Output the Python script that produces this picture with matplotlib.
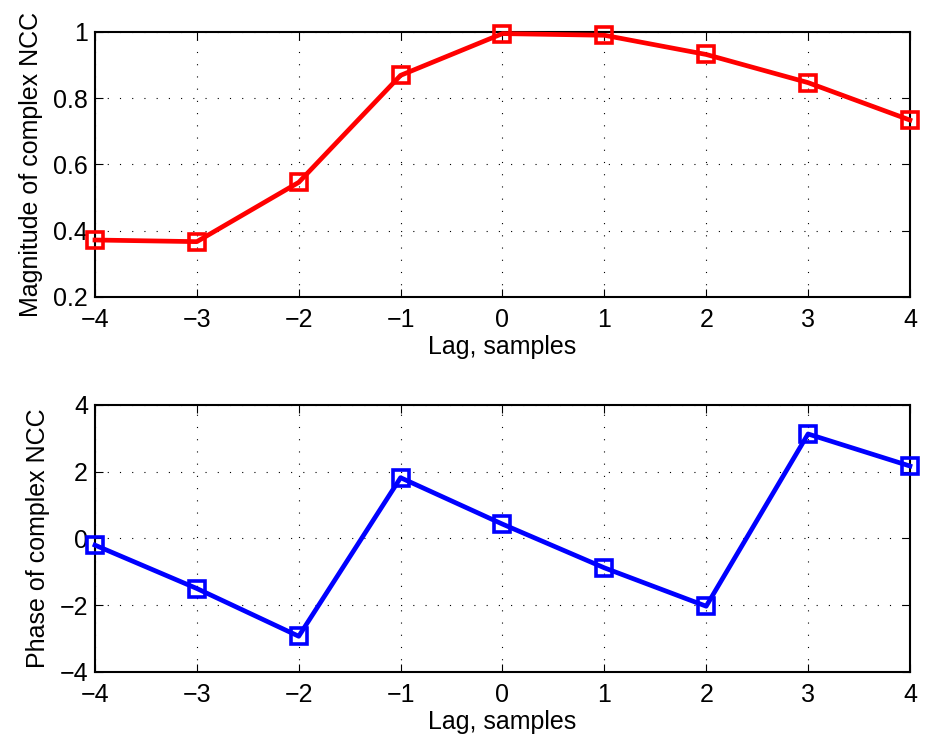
import numpy as np
import matplotlib.pyplot as plt

plt.rcParams['font.family'] = ['Liberation Sans', 'DejaVu Sans']

lags = [-4, -3, -2, -1, 0, 1, 2, 3, 4]
magnitude = [0.372, 0.367, 0.546, 0.869, 0.995, 0.990, 0.932, 0.847, 0.734]
phase = [-0.20, -1.50, -2.93, 1.82, 0.43, -0.88, -2.03, 3.13, 2.17]

FS = 18


def styleAxes(ax, yticks):
    ax.set_xlim(-4, 4)
    ax.set_xticks(lags)
    ax.set_xticklabels([str(l).replace('-', '\u2212') for l in lags])
    ax.set_yticks(yticks)
    ax.grid(True, linestyle=(0, (1, 10)), color='black', linewidth=0.8)
    ax.tick_params(direction='in', top=True, right=True, length=6,
                   width=0.8, labelsize=FS, pad=5)
    ax.tick_params(axis='x', pad=8)
    for s in ax.spines.values():
        s.set_linewidth(1.5)
    ax.set_xlabel("Lag, samples", fontsize=FS, labelpad=2)


fig = plt.figure(figsize=(9.25, 7.43), dpi=100)
ax1 = fig.add_axes([0.1027, 0.6003, 0.881, 0.3567])
ax2 = fig.add_axes([0.1027, 0.0956, 0.881, 0.3594])

ax1.plot(lags, magnitude, color='red', linewidth=3.4, marker='s', markersize=12,
         markerfacecolor='none', markeredgewidth=2.6, clip_on=False, zorder=3)
ax1.set_ylim(0.2, 1)
styleAxes(ax1, [0.2, 0.4, 0.6, 0.8, 1])
ax1.set_yticklabels(['0.2', '0.4', '0.6', '0.8', '1'])
ax1.set_ylabel("Magnitude of complex NCC", fontsize=FS, labelpad=7)

ax2.plot(lags, phase, color='blue', linewidth=3.4, marker='s', markersize=12,
         markerfacecolor='none', markeredgewidth=2.6, clip_on=False, zorder=3)
ax2.set_ylim(-4, 4)
styleAxes(ax2, [-4, -2, 0, 2, 4])
ax2.set_yticklabels(['\u22124', '\u22122', '0', '2', '4'])
ax2.set_ylabel("Phase of complex NCC", fontsize=FS, labelpad=7)

fig.savefig("out.png", dpi=100)
